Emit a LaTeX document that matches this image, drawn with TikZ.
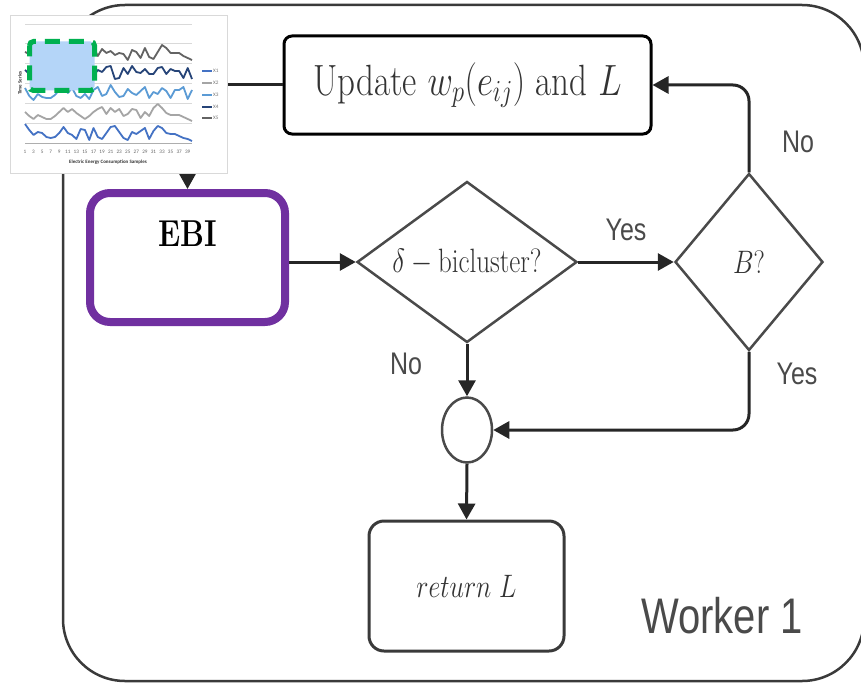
\RequirePackage{fix-cm}
\documentclass[tikz,border=0pt]{standalone}
\usepackage{fontspec}
\usepackage{graphicx}
\newfontfamily\arialf{Liberation Sans}
\newfontfamily\calibrif{Carlito}
\usetikzlibrary{arrows.meta,shapes.geometric,calc}

\definecolor{inkgray}{HTML}{4A4A4A}
\definecolor{serifink}{HTML}{333333}
\definecolor{framegray}{HTML}{3A3A3A}
\definecolor{ebipurple}{HTML}{7030A0}
\definecolor{gridgray}{HTML}{D9D9D9}
\definecolor{serA}{HTML}{4472C4}
\definecolor{serB}{HTML}{A5A5A5}
\definecolor{serC}{HTML}{5B9BD5}
\definecolor{serD}{HTML}{264478}
\definecolor{serE}{HTML}{636363}
\definecolor{selgreen}{HTML}{00B050}
\definecolor{selblue}{HTML}{B4D5F8}

% taller-than-wide lettering used throughout
\newcommand\tall[1]{\scalebox{1}[1.25]{#1}}
% one chart series: colour, band bottom, first value, remaining values
\newcommand\seriesline[4]{%
  \draw[#1, line width=1.8pt, line join=round]
    (25,#2-#3) \foreach \v [count=\i] in {#4} { -- (25+\i*4.282,#2-\v) };}

\tikzset{
  flowbox/.style={draw, fill=white, inner sep=0pt},
  decision/.style={diamond, draw=inkgray, line width=2.5pt, fill=white, inner sep=0pt},
  conn/.style={line width=3pt, draw=black!85, -{Triangle[length=16pt,width=17pt]}},
  lbl/.style={text=inkgray, font=\arialf\fontsize{25}{30}\selectfont, inner sep=0pt},
  ticklbl/.style={text=black!60, font=\calibrif\fontsize{5.2}{6}\selectfont, inner sep=0pt},
}

\begin{document}
\begin{tikzpicture}[x=1pt,y=-1pt]
\useasboundingbox (0,0) rectangle (861,682);

% outer worker frame
\draw[framegray, line width=2.5pt, rounded corners=62pt] (63,5) rectangle (864,681);

% flow nodes
\node[flowbox, draw=black, line width=3pt, rounded corners=8pt,
      minimum width=367pt, minimum height=98pt, text=serifink] (upd) at (467.5,85)
  {\fontsize{35}{42}\selectfont\tall{Update $w_p(e_{ij})$ and $L$}};

\node[flowbox, draw=ebipurple, line width=8pt, rounded corners=20pt,
      minimum width=195pt, minimum height=129pt,
      label={[anchor=north, inner sep=0pt, yshift=-32pt, text=black]north:%
        {\fontsize{30}{36}\selectfont\tall{\textbf{EBI}}}}] (ebi) at (187.5,257.5) {};

\node[decision, minimum width=220pt, minimum height=161pt, aspect=1.37, text=serifink]
  (d1) at (467,262) {\fontsize{27}{32}\selectfont\tall{$\delta-{}$bicluster?}};

\node[decision, minimum width=148pt, minimum height=177pt, aspect=0.84, text=serifink]
  (d2) at (749,262) {\fontsize{26}{30}\selectfont\tall{$B?$}};

\node[ellipse, draw=inkgray, line width=2.5pt, fill=white, inner sep=0pt,
      minimum width=50pt, minimum height=65pt] (c) at (467,430) {};

\node[flowbox, draw=framegray, line width=3pt, rounded corners=15pt,
      minimum width=195pt, minimum height=130pt, text=serifink] (ret) at (466.5,586)
  {\fontsize{26}{30}\selectfont\tall{$return\ L$}};

% connectors
\draw[conn] (upd.west) -| (ebi.north);
\draw[conn] (ebi.east |- d1.west) -- (d1.west);
\draw[conn] (d1.east) -- (d2.west) node[lbl, midway, above=20pt] {\tall{Yes}};
\draw[conn, rounded corners=16pt] (d2.north) |- (upd.east);
\draw[conn, rounded corners=16pt] (d2.south) |- (c.east);
\draw[conn] (d1.south) -- (c.north);
\draw[conn] (c.south) -- (ret.north);

% branch labels
\node[lbl] (no1) at (798,142) {\tall{No}};
\node[lbl] (yes2) at (797,374) {\tall{Yes}};
\node[lbl] (no2) at (406,364) {\tall{No}};
\node[text=inkgray, inner sep=0pt] (wk) at (722,616)
  {\arialf\fontsize{40}{48}\selectfont\tall{Worker 1}};

% time-series chart
\node[draw=gridgray, line width=0.6pt, fill=white, inner sep=0pt,
      minimum width=217pt, minimum height=158pt] (chart) at (118.5,94) {};
\foreach \gy in {24,43,63,83,103,123}
  \draw[gridgray, line width=0.6pt] (25,\gy) -- (192,\gy);
\draw[gridgray!80!black, line width=0.6pt] (25,143) -- (192,143);

\seriesline{serE}{62}{10}{8,12,6,9,12,7,14,11,16,12,9,14,7,12,10,15,6,13,9,11,7,9,8,2,12,10,4,14,5,3,10,17,14,9,9,9,6,4,2}
\seriesline{serD}{82}{12}{8,14,4,16,9,12,6,10,16,5,12,3,17,7,15,6,12,10,15,16,3,4,14,8,16,10,9,13,8,8,14,15,8,13,11,11,4,14,3}
\seriesline{serC}{102}{14}{6,2,8,5,4,4,7,12,16,9,14,6,4,8,3,12,15,6,8,17,10,5,6,13,9,7,11,15,4,10,8,14,11,4,12,12,15,3,12}
\seriesline{serB}{122}{10}{6,3,7,5,3,3,6,10,14,10,13,9,6,3,6,10,13,15,8,14,10,13,6,8,13,12,4,10,6,14,18,14,9,7,7,7,5,3,1}
\seriesline{serA}{142}{18}{12,7,10,9,5,4,5,9,15,9,7,3,13,12,2,14,5,3,9,15,16,10,4,2,10,8,11,14,3,11,16,14,9,8,8,6,4,3,1}

% tick labels and axis titles
\foreach \n in {1,3,...,39}
  \node[ticklbl] at (25+\n*4.282-4.282,152) {\n};
\node[font=\calibrif\bfseries\fontsize{5}{6}\selectfont, text=black!80, inner sep=0pt]
  (xt) at (108,162) {Electric Energy Consumption Samples};
\node[font=\calibrif\bfseries\fontsize{5}{6}\selectfont, text=black!80, inner sep=0pt,
      rotate=90] (yt) at (20,83) {Time Series};

% legend
\foreach \k/\col/\ly in {1/serA/71,2/serB/83,3/serC/95,4/serD/107,5/serE/118} {
  \draw[\col, line width=1.6pt] (202,\ly) -- (212,\ly);
  \node[ticklbl, anchor=west, text=black!55] at (213,\ly) {X\k};
}

% highlighted window
\draw[selgreen, fill=selblue, line width=5pt, rounded corners=4pt,
      dash pattern=on 15pt off 9pt, dash phase=4pt] (29.5,41.5) rectangle (94.5,90.5);
\end{tikzpicture}
\end{document}
